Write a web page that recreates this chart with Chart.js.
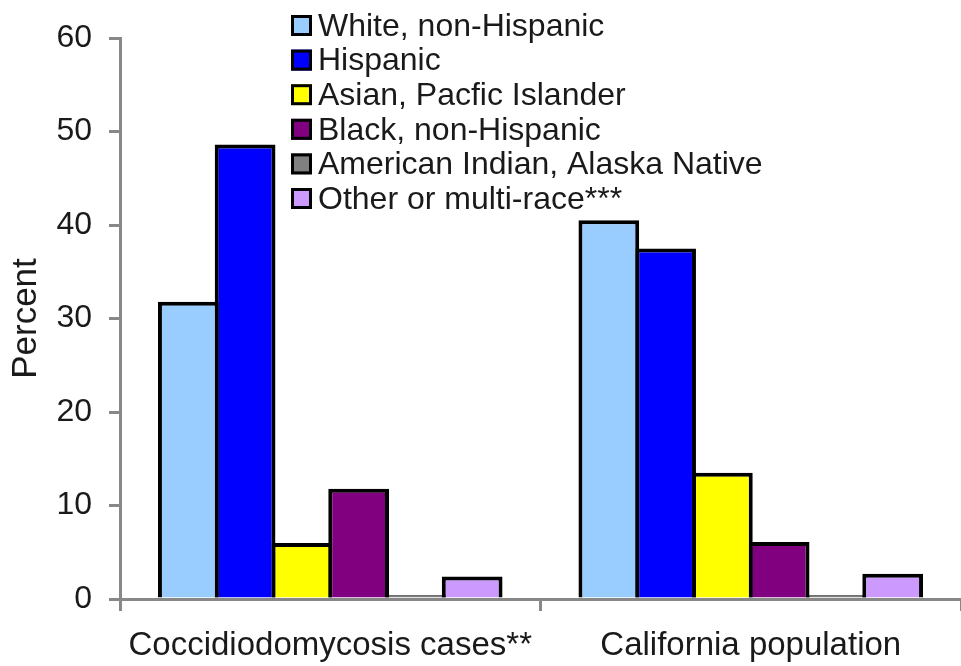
<!DOCTYPE html>
<html>
<head>
<meta charset="utf-8">
<script src="https://cdn.jsdelivr.net/npm/chart.js@4"></script>
<style>
  body { margin: 0; background: #fff; }
  #wrap { position: relative; width: 961px; height: 666px; }
</style>
</head>
<body>
<div id="wrap"><canvas id="chart-1"></canvas></div>
<script>
const categories = ['Coccidiodomycosis cases**', 'California population'];
const seriesLabels = ['White, non-Hispanic', 'Hispanic', 'Asian, Pacfic Islander',
    'Black, non-Hispanic', 'American Indian, Alaska Native', 'Other or multi-race***'];
const seriesColors = ['#99ccff', '#0000ff', '#ffff00', '#800080', '#808080', '#cc99ff'];
const whiteNH = [31.8, 40.5];
const hispanic = [48.6, 37.5];
const asianPI = [6.0, 13.5];
const blackNH = [11.8, 6.1];
const amIndian = [0.4, 0.4];
const otherMulti = [2.4, 2.7];
const yTicks = [0, 10, 20, 30, 40, 50, 60];

const FONT = 'Liberation Sans, Arial, sans-serif';
const seriesValues = [whiteNH, hispanic, asianPI, blackNH, amIndian, otherMulti];

// legend drawn inside the plot, one column
const sideLegend = {
    id: 'sideLegend',
    afterDraw(chart) {
        const c = chart.ctx;
        c.save();
        c.font = '32px ' + FONT;
        c.textBaseline = 'middle';
        chart.data.datasets.forEach((ds, i) => {
            const y = 26 + i * 34.6;
            c.fillStyle = ds.backgroundColor;
            c.fillRect(291, y - 11, 21, 21);
            c.strokeStyle = '#000';
            c.lineWidth = 3;
            c.strokeRect(292.5, y - 9.5, 18, 18);
            c.fillStyle = '#1a1a1a';
            c.fillText(ds.label, 318, y + 1);
        });
        c.restore();
    }
};

new Chart(document.getElementById('chart-1'), {
    type: 'bar',
    data: {
        labels: categories,
        datasets: seriesLabels.map((label, i) => ({
            label: label,
            data: seriesValues[i],
            backgroundColor: seriesColors[i],
            borderColor: '#000',
            borderWidth: 4,
            categoryPercentage: 0.81,
            barPercentage: 1.07
        }))
    },
    options: {
        responsive: true,
        maintainAspectRatio: false,
        animation: false,
        layout: { padding: { left: 5, top: 38, right: -9, bottom: 0 } },
        plugins: {
            legend: { display: false },
            tooltip: { enabled: false }
        },
        scales: {
            x: {
                afterFit: s => { s.height = 67; },
                grid: { drawOnChartArea: false, tickLength: 12, color: '#888', lineWidth: 3 },
                border: { color: '#888', width: 3 },
                ticks: { color: '#1a1a1a', font: { size: 33, family: FONT }, padding: 15 }
            },
            y: {
                min: 0,
                max: 60,
                afterFit: s => { s.width = 115; },
                afterBuildTicks: axis => { axis.ticks = yTicks.map(v => ({ value: v })); },
                grid: { drawOnChartArea: false, tickLength: 11, color: '#888', lineWidth: 3 },
                border: { color: '#888', width: 3 },
                ticks: { color: '#1a1a1a', font: { size: 32, family: FONT }, padding: 17 },
                title: {
                    display: true,
                    text: 'Percent',
                    color: '#1a1a1a',
                    font: { size: 35, family: FONT },
                    padding: 0
                }
            }
        }
    },
    plugins: [sideLegend]
});
</script>
</body>
</html>
